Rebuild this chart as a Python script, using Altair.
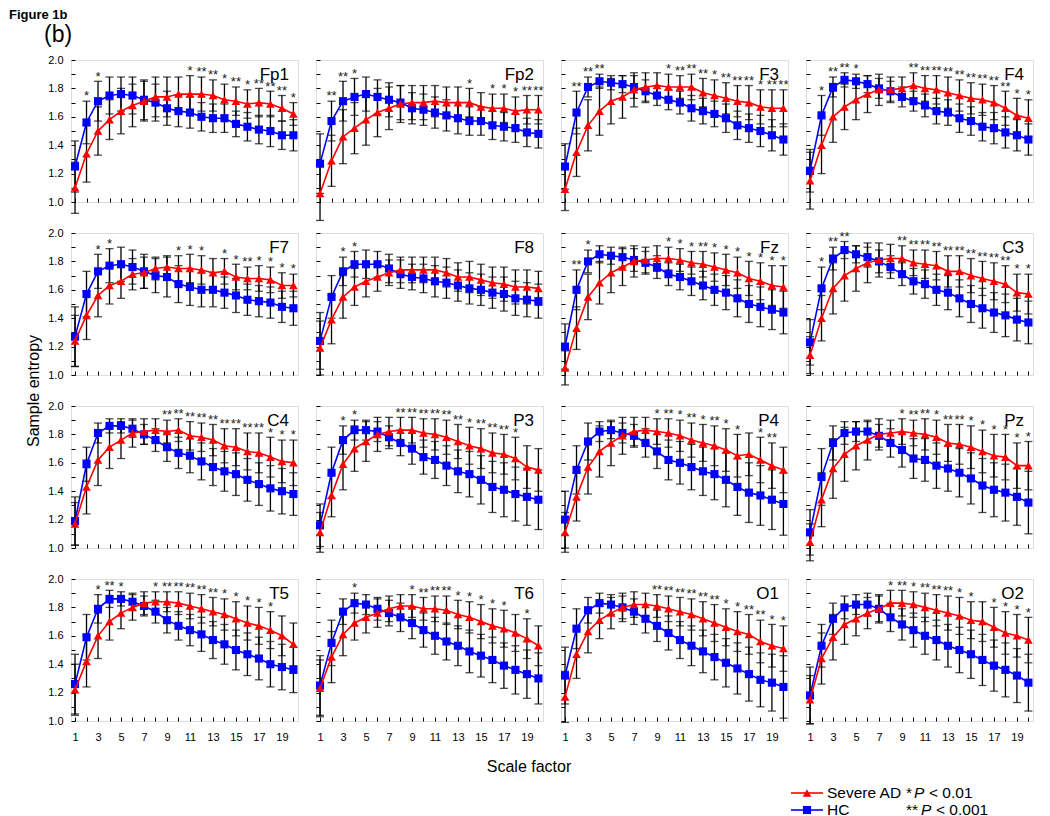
import altair as alt
import pandas as pd

FONT = "Liberation Sans"
RED = "#ff0000"
BLUE = "#0000ff"

SCALES = list(range(1, 21))
CHANNELS = ["Fp1", "Fp2", "F3", "F4", "F7", "F8", "Fz", "C3",
            "C4", "P3", "P4", "Pz", "T5", "T6", "O1", "O2"]
GROUPS = ["Severe AD", "HC"]

AD_MEAN = {
    "Fp1": [1.10, 1.34, 1.50, 1.58, 1.64, 1.68, 1.71, 1.74, 1.74, 1.76, 1.76, 1.76, 1.75, 1.72, 1.71, 1.69, 1.70, 1.69, 1.66, 1.62],
    "Fp2": [1.06, 1.29, 1.46, 1.52, 1.58, 1.63, 1.66, 1.69, 1.70, 1.70, 1.71, 1.70, 1.70, 1.70, 1.67, 1.66, 1.66, 1.64, 1.65, 1.65],
    "F3":  [1.09, 1.35, 1.54, 1.64, 1.71, 1.74, 1.79, 1.81, 1.82, 1.81, 1.81, 1.81, 1.77, 1.75, 1.73, 1.71, 1.70, 1.67, 1.66, 1.66],
    "F4":  [1.15, 1.40, 1.60, 1.67, 1.72, 1.76, 1.79, 1.79, 1.80, 1.82, 1.80, 1.79, 1.77, 1.75, 1.73, 1.72, 1.70, 1.66, 1.61, 1.59],
    "F7":  [1.24, 1.42, 1.56, 1.63, 1.66, 1.71, 1.72, 1.75, 1.76, 1.75, 1.75, 1.74, 1.72, 1.73, 1.69, 1.68, 1.68, 1.67, 1.63, 1.63],
    "F8":  [1.19, 1.39, 1.55, 1.62, 1.66, 1.69, 1.72, 1.74, 1.74, 1.74, 1.74, 1.72, 1.69, 1.69, 1.67, 1.65, 1.64, 1.62, 1.62, 1.61],
    "Fz":  [1.05, 1.33, 1.55, 1.65, 1.72, 1.76, 1.80, 1.81, 1.82, 1.82, 1.81, 1.79, 1.78, 1.76, 1.74, 1.72, 1.68, 1.66, 1.63, 1.62],
    "C3":  [1.14, 1.40, 1.61, 1.70, 1.75, 1.79, 1.81, 1.82, 1.82, 1.79, 1.78, 1.77, 1.73, 1.73, 1.70, 1.68, 1.66, 1.64, 1.58, 1.57],
    "C4":  [1.17, 1.43, 1.62, 1.71, 1.76, 1.81, 1.82, 1.83, 1.82, 1.83, 1.79, 1.78, 1.76, 1.72, 1.71, 1.68, 1.67, 1.64, 1.61, 1.60],
    "P3":  [1.11, 1.37, 1.59, 1.70, 1.75, 1.80, 1.82, 1.83, 1.83, 1.81, 1.80, 1.78, 1.75, 1.72, 1.70, 1.67, 1.66, 1.63, 1.57, 1.55],
    "P4":  [1.11, 1.36, 1.57, 1.68, 1.74, 1.79, 1.82, 1.83, 1.82, 1.81, 1.79, 1.76, 1.74, 1.72, 1.69, 1.65, 1.66, 1.62, 1.58, 1.55],
    "Pz":  [1.04, 1.34, 1.56, 1.66, 1.72, 1.76, 1.80, 1.81, 1.82, 1.81, 1.80, 1.78, 1.74, 1.73, 1.71, 1.68, 1.65, 1.64, 1.58, 1.58],
    "T5":  [1.22, 1.42, 1.60, 1.70, 1.76, 1.80, 1.83, 1.84, 1.84, 1.83, 1.81, 1.79, 1.77, 1.75, 1.72, 1.69, 1.67, 1.64, 1.60, 1.54],
    "T6":  [1.23, 1.45, 1.61, 1.69, 1.73, 1.76, 1.79, 1.81, 1.81, 1.79, 1.79, 1.78, 1.75, 1.73, 1.70, 1.67, 1.65, 1.62, 1.58, 1.53],
    "O1":  [1.17, 1.47, 1.63, 1.71, 1.76, 1.80, 1.82, 1.82, 1.81, 1.79, 1.77, 1.75, 1.72, 1.69, 1.66, 1.63, 1.61, 1.56, 1.53, 1.51],
    "O2":  [1.15, 1.44, 1.59, 1.68, 1.72, 1.76, 1.79, 1.83, 1.83, 1.82, 1.80, 1.78, 1.76, 1.74, 1.71, 1.70, 1.66, 1.62, 1.60, 1.57],
}

HC_MEAN = {
    "Fp1": [1.25, 1.56, 1.71, 1.75, 1.76, 1.75, 1.72, 1.70, 1.66, 1.64, 1.63, 1.60, 1.59, 1.59, 1.55, 1.53, 1.51, 1.50, 1.47, 1.47],
    "Fp2": [1.27, 1.57, 1.71, 1.74, 1.76, 1.74, 1.72, 1.70, 1.66, 1.65, 1.63, 1.61, 1.59, 1.57, 1.57, 1.54, 1.53, 1.52, 1.49, 1.48],
    "F3":  [1.25, 1.63, 1.81, 1.85, 1.84, 1.83, 1.81, 1.78, 1.75, 1.72, 1.70, 1.66, 1.64, 1.62, 1.59, 1.54, 1.52, 1.50, 1.47, 1.44],
    "F4":  [1.22, 1.61, 1.81, 1.86, 1.85, 1.83, 1.80, 1.78, 1.74, 1.71, 1.68, 1.64, 1.63, 1.59, 1.57, 1.53, 1.52, 1.49, 1.47, 1.44],
    "F7":  [1.27, 1.57, 1.73, 1.77, 1.78, 1.76, 1.73, 1.70, 1.69, 1.64, 1.62, 1.60, 1.60, 1.58, 1.56, 1.53, 1.52, 1.51, 1.48, 1.47],
    "F8":  [1.24, 1.55, 1.73, 1.78, 1.78, 1.78, 1.75, 1.71, 1.69, 1.68, 1.66, 1.65, 1.63, 1.61, 1.60, 1.58, 1.57, 1.54, 1.53, 1.52],
    "Fz":  [1.20, 1.60, 1.80, 1.85, 1.84, 1.83, 1.81, 1.79, 1.76, 1.71, 1.69, 1.66, 1.63, 1.60, 1.58, 1.54, 1.50, 1.48, 1.46, 1.44],
    "C3":  [1.23, 1.61, 1.82, 1.88, 1.85, 1.83, 1.80, 1.76, 1.71, 1.66, 1.64, 1.60, 1.58, 1.54, 1.50, 1.47, 1.44, 1.42, 1.39, 1.37],
    "C4":  [1.19, 1.59, 1.81, 1.86, 1.86, 1.84, 1.80, 1.76, 1.71, 1.67, 1.65, 1.61, 1.57, 1.54, 1.52, 1.48, 1.45, 1.42, 1.40, 1.38],
    "P3":  [1.16, 1.53, 1.76, 1.83, 1.83, 1.82, 1.78, 1.74, 1.70, 1.64, 1.62, 1.58, 1.54, 1.52, 1.48, 1.43, 1.41, 1.38, 1.36, 1.34],
    "P4":  [1.20, 1.55, 1.75, 1.82, 1.83, 1.81, 1.79, 1.74, 1.68, 1.62, 1.60, 1.57, 1.54, 1.52, 1.48, 1.43, 1.39, 1.37, 1.34, 1.31],
    "Pz":  [1.11, 1.50, 1.74, 1.81, 1.82, 1.82, 1.79, 1.74, 1.69, 1.63, 1.62, 1.58, 1.56, 1.53, 1.49, 1.44, 1.41, 1.39, 1.36, 1.32],
    "T5":  [1.26, 1.59, 1.79, 1.86, 1.86, 1.84, 1.81, 1.77, 1.71, 1.67, 1.64, 1.61, 1.57, 1.54, 1.50, 1.47, 1.44, 1.40, 1.38, 1.36],
    "T6":  [1.25, 1.55, 1.77, 1.83, 1.82, 1.79, 1.76, 1.73, 1.69, 1.64, 1.60, 1.56, 1.53, 1.49, 1.46, 1.43, 1.39, 1.36, 1.33, 1.30],
    "O1":  [1.32, 1.65, 1.78, 1.83, 1.82, 1.80, 1.77, 1.72, 1.67, 1.62, 1.57, 1.53, 1.49, 1.45, 1.41, 1.37, 1.33, 1.29, 1.27, 1.24],
    "O2":  [1.18, 1.53, 1.72, 1.80, 1.82, 1.82, 1.79, 1.73, 1.68, 1.64, 1.60, 1.57, 1.53, 1.50, 1.47, 1.43, 1.39, 1.36, 1.32, 1.27],
}

AD_ERR = {
    "Fp1": [0.18, 0.20, 0.17, 0.14, 0.16, 0.15, 0.14, 0.14, 0.14, 0.12, 0.13, 0.12, 0.11, 0.11, 0.10, 0.10, 0.10, 0.09, 0.09, 0.08],
    "Fp2": [0.19, 0.18, 0.19, 0.18, 0.18, 0.17, 0.15, 0.13, 0.12, 0.12, 0.11, 0.11, 0.11, 0.10, 0.10, 0.10, 0.10, 0.10, 0.10, 0.10],
    "F3":  [0.15, 0.17, 0.18, 0.17, 0.16, 0.15, 0.12, 0.10, 0.09, 0.09, 0.08, 0.09, 0.10, 0.11, 0.11, 0.11, 0.12, 0.12, 0.13, 0.13],
    "F4":  [0.20, 0.20, 0.18, 0.16, 0.14, 0.13, 0.11, 0.09, 0.08, 0.09, 0.09, 0.10, 0.11, 0.11, 0.11, 0.11, 0.12, 0.12, 0.12, 0.13],
    "F7":  [0.18, 0.17, 0.15, 0.13, 0.12, 0.11, 0.11, 0.08, 0.08, 0.09, 0.10, 0.10, 0.10, 0.09, 0.09, 0.08, 0.09, 0.09, 0.09, 0.08],
    "F8":  [0.19, 0.17, 0.15, 0.13, 0.11, 0.10, 0.09, 0.09, 0.09, 0.09, 0.09, 0.10, 0.10, 0.11, 0.11, 0.11, 0.12, 0.12, 0.12, 0.12],
    "Fz":  [0.12, 0.15, 0.16, 0.15, 0.14, 0.13, 0.11, 0.09, 0.09, 0.08, 0.08, 0.08, 0.09, 0.10, 0.11, 0.11, 0.12, 0.13, 0.14, 0.15],
    "C3":  [0.13, 0.16, 0.18, 0.18, 0.16, 0.14, 0.12, 0.10, 0.09, 0.09, 0.10, 0.10, 0.11, 0.11, 0.12, 0.12, 0.13, 0.13, 0.13, 0.14],
    "C4":  [0.15, 0.19, 0.18, 0.15, 0.13, 0.10, 0.09, 0.08, 0.08, 0.08, 0.10, 0.10, 0.11, 0.12, 0.13, 0.13, 0.14, 0.14, 0.15, 0.16],
    "P3":  [0.14, 0.15, 0.18, 0.16, 0.14, 0.12, 0.10, 0.09, 0.09, 0.10, 0.11, 0.12, 0.12, 0.13, 0.14, 0.14, 0.14, 0.15, 0.15, 0.15],
    "P4":  [0.14, 0.17, 0.19, 0.18, 0.16, 0.13, 0.10, 0.09, 0.09, 0.10, 0.11, 0.12, 0.13, 0.14, 0.15, 0.15, 0.15, 0.16, 0.16, 0.16],
    "Pz":  [0.13, 0.19, 0.21, 0.19, 0.17, 0.14, 0.11, 0.09, 0.09, 0.09, 0.11, 0.12, 0.13, 0.14, 0.15, 0.15, 0.15, 0.16, 0.16, 0.17],
    "T5":  [0.18, 0.18, 0.16, 0.13, 0.11, 0.09, 0.08, 0.07, 0.07, 0.08, 0.09, 0.10, 0.10, 0.11, 0.12, 0.12, 0.13, 0.13, 0.14, 0.15],
    "T6":  [0.20, 0.18, 0.15, 0.12, 0.11, 0.10, 0.09, 0.08, 0.08, 0.08, 0.09, 0.10, 0.10, 0.11, 0.12, 0.12, 0.13, 0.13, 0.14, 0.14],
    "O1":  [0.18, 0.17, 0.15, 0.13, 0.11, 0.10, 0.09, 0.08, 0.08, 0.09, 0.10, 0.11, 0.12, 0.13, 0.13, 0.14, 0.14, 0.15, 0.15, 0.16],
    "O2":  [0.17, 0.18, 0.16, 0.14, 0.12, 0.11, 0.10, 0.09, 0.09, 0.09, 0.10, 0.11, 0.12, 0.13, 0.13, 0.14, 0.14, 0.15, 0.15, 0.16],
}

HC_ERR = {
    "Fp1": [0.18, 0.15, 0.14, 0.13, 0.12, 0.13, 0.14, 0.13, 0.12, 0.11, 0.11, 0.10, 0.10, 0.10, 0.09, 0.10, 0.10, 0.11, 0.10, 0.11],
    "Fp2": [0.21, 0.14, 0.14, 0.13, 0.12, 0.12, 0.12, 0.12, 0.11, 0.11, 0.11, 0.11, 0.11, 0.10, 0.10, 0.10, 0.10, 0.10, 0.10, 0.10],
    "F3":  [0.16, 0.15, 0.07, 0.05, 0.05, 0.06, 0.08, 0.08, 0.07, 0.07, 0.08, 0.09, 0.09, 0.09, 0.10, 0.10, 0.10, 0.11, 0.11, 0.11],
    "F4":  [0.15, 0.14, 0.07, 0.05, 0.05, 0.06, 0.07, 0.07, 0.07, 0.07, 0.08, 0.09, 0.09, 0.10, 0.10, 0.10, 0.11, 0.11, 0.11, 0.11],
    "F7":  [0.21, 0.16, 0.12, 0.12, 0.12, 0.12, 0.12, 0.12, 0.14, 0.13, 0.13, 0.12, 0.12, 0.11, 0.12, 0.11, 0.11, 0.11, 0.11, 0.12],
    "F8":  [0.20, 0.15, 0.10, 0.09, 0.10, 0.09, 0.10, 0.10, 0.09, 0.10, 0.11, 0.11, 0.11, 0.11, 0.11, 0.11, 0.12, 0.12, 0.12, 0.12],
    "Fz":  [0.16, 0.14, 0.08, 0.06, 0.06, 0.07, 0.08, 0.08, 0.08, 0.08, 0.09, 0.10, 0.10, 0.11, 0.12, 0.13, 0.13, 0.14, 0.14, 0.15],
    "C3":  [0.16, 0.15, 0.08, 0.06, 0.06, 0.07, 0.08, 0.08, 0.08, 0.09, 0.10, 0.11, 0.12, 0.13, 0.13, 0.14, 0.14, 0.15, 0.15, 0.15],
    "C4":  [0.17, 0.12, 0.07, 0.05, 0.05, 0.06, 0.07, 0.08, 0.10, 0.11, 0.12, 0.13, 0.13, 0.14, 0.15, 0.15, 0.15, 0.16, 0.16, 0.15],
    "P3":  [0.15, 0.18, 0.10, 0.07, 0.07, 0.07, 0.08, 0.09, 0.11, 0.12, 0.13, 0.14, 0.15, 0.16, 0.17, 0.18, 0.19, 0.19, 0.20, 0.21],
    "P4":  [0.20, 0.17, 0.13, 0.07, 0.06, 0.07, 0.08, 0.10, 0.12, 0.14, 0.15, 0.16, 0.17, 0.18, 0.19, 0.20, 0.21, 0.21, 0.21, 0.22],
    "Pz":  [0.16, 0.20, 0.12, 0.08, 0.07, 0.07, 0.08, 0.10, 0.12, 0.14, 0.15, 0.16, 0.16, 0.17, 0.18, 0.19, 0.19, 0.20, 0.20, 0.22],
    "T5":  [0.21, 0.16, 0.10, 0.06, 0.05, 0.06, 0.07, 0.08, 0.09, 0.10, 0.11, 0.12, 0.13, 0.14, 0.14, 0.15, 0.15, 0.16, 0.16, 0.16],
    "T6":  [0.21, 0.16, 0.09, 0.07, 0.07, 0.08, 0.09, 0.10, 0.11, 0.12, 0.13, 0.13, 0.14, 0.15, 0.15, 0.16, 0.16, 0.17, 0.17, 0.18],
    "O1":  [0.20, 0.14, 0.09, 0.07, 0.07, 0.08, 0.09, 0.10, 0.11, 0.12, 0.13, 0.14, 0.15, 0.16, 0.17, 0.18, 0.19, 0.19, 0.20, 0.22],
    "O2":  [0.20, 0.15, 0.11, 0.08, 0.07, 0.08, 0.09, 0.10, 0.11, 0.12, 0.13, 0.14, 0.15, 0.16, 0.17, 0.18, 0.18, 0.19, 0.19, 0.20],
}

# significance marks per scale factor (* P<0.01, ** P<0.001)
STARS = {
    "Fp1": {2: "*", 3: "*", 11: "*", 12: "**", 13: "**", 14: "*", 15: "**", 16: "*", 17: "**", 18: "**", 19: "**", 20: "*"},
    "Fp2": {2: "**", 3: "**", 4: "*", 14: "*", 16: "*", 17: "*", 18: "*", 19: "**", 20: "**"},
    "F3":  {2: "**", 3: "**", 4: "**", 10: "*", 11: "**", 12: "**", 13: "**", 14: "*", 15: "**", 16: "**", 17: "**", 18: "*", 19: "**", 20: "**"},
    "F4":  {2: "*", 3: "**", 4: "**", 5: "*", 10: "**", 11: "**", 12: "**", 13: "**", 14: "**", 15: "**", 16: "**", 17: "**", 18: "**", 19: "*", 20: "*"},
    "F7":  {3: "*", 4: "*", 10: "*", 11: "*", 12: "*", 14: "*", 15: "*", 16: "**", 17: "*", 18: "*", 19: "*", 20: "*"},
    "F8":  {3: "*", 4: "*"},
    "Fz":  {2: "**", 3: "*", 10: "*", 11: "*", 12: "*", 13: "**", 14: "*", 15: "*", 16: "*", 17: "*", 18: "*", 19: "*", 20: "*"},
    "C3":  {2: "*", 3: "**", 4: "**", 9: "**", 10: "**", 11: "**", 12: "**", 13: "**", 14: "**", 15: "**", 16: "**", 17: "**", 18: "**", 19: "*", 20: "*"},
    "C4":  {9: "**", 10: "**", 11: "**", 12: "**", 13: "**", 14: "**", 15: "**", 16: "**", 17: "**", 18: "*", 19: "*", 20: "*"},
    "P3":  {3: "*", 4: "*", 8: "**", 9: "**", 10: "**", 11: "**", 12: "**", 13: "**", 14: "*", 15: "**", 16: "**", 17: "**", 18: "*"},
    "P4":  {9: "*", 10: "**", 11: "*", 12: "**", 13: "*", 14: "**", 15: "*", 16: "*", 18: "*", 19: "**"},
    "Pz":  {9: "*", 10: "**", 11: "**", 12: "*", 13: "**", 14: "**", 15: "*", 16: "*", 17: "*", 18: "*", 19: "*", 20: "*"},
    "T5":  {3: "*", 4: "**", 5: "*", 8: "*", 9: "**", 10: "**", 11: "**", 12: "**", 13: "**", 14: "*", 15: "*", 16: "*", 17: "*", 18: "*"},
    "T6":  {4: "*", 9: "*", 10: "**", 11: "**", 12: "**", 13: "*", 14: "*", 15: "*", 16: "*", 17: "*", 19: "*"},
    "O1":  {9: "**", 10: "**", 11: "**", 12: "**", 13: "**", 14: "**", 15: "*", 16: "*", 17: "**", 18: "**", 19: "*", 20: "*"},
    "O2":  {8: "*", 9: "**", 10: "*", 11: "**", 12: "**", 13: "**", 14: "*", 15: "*", 17: "*", 18: "*", 19: "*", 20: "*"},
}

Y_TICKS = [round(1.0 + 0.1 * i, 1) for i in range(11)]
X_LABELS = [1, 3, 5, 7, 9, 11, 13, 15, 17, 19]

W, H = 227, 142
XS = alt.Scale(domain=[0.65, 20.4], nice=False, zero=False)
YS = alt.Scale(domain=[1.0, 2.0], nice=False, zero=False)


def x_axis(show):
    return alt.Axis(values=SCALES, labels=show, tickSize=4, offset=-4, domain=False,
                    grid=False, title=None, tickColor="black", tickWidth=1,
                    labelExpr="indexof(" + str(X_LABELS) + ", datum.value) >= 0 ? datum.label : ''",
                    labelFont=FONT, labelFontSize=11, labelColor="black",
                    labelPadding=10, labelOverlap=False, labelFlush=False)


def y_axis(show):
    return alt.Axis(values=Y_TICKS, labels=show, tickSize=4, offset=-4, domain=False,
                    grid=False, title=None, tickColor="black", tickWidth=1,
                    labelExpr="round(datum.value*10) % 2 == 0 ? format(datum.value, '.1f') : ''",
                    labelFont=FONT, labelFontSize=11, labelColor="black",
                    labelPadding=8, labelOverlap=False, labelFlush=False)


def one_row():
    return pd.DataFrame({"k": [0]})


def txt(text, x, y, size=16, **kw):
    opts = dict(text=text, font=FONT, fontSize=size, align="left", baseline="middle", color="black")
    opts.update(kw)
    return alt.Chart(one_row()).mark_text(**opts).encode(x=alt.value(x), y=alt.value(y))


def panel(ch, r, c):
    rows = []
    for g, means, errs in (("Severe AD", AD_MEAN[ch], AD_ERR[ch]), ("HC", HC_MEAN[ch], HC_ERR[ch])):
        for s, m, e in zip(SCALES, means, errs):
            rows.append({"scale": s, "group": g, "mean": m, "lo": m - e, "hi": m + e})
    df = pd.DataFrame(rows)
    top = df.groupby("scale")["hi"].max()
    sdf = pd.DataFrame([{"scale": s, "label": lab, "ypos": top[s] + 0.005}
                        for s, lab in STARS[ch].items()])

    X = lambda f: alt.X(f + ":Q", scale=XS, axis=x_axis(r == 3))
    Y = lambda f: alt.Y(f + ":Q", scale=YS, axis=y_axis(c == 0))

    base = alt.Chart(df)
    err = base.mark_rule(color="black", strokeWidth=1.3).encode(x=X("scale"), y=Y("lo"), y2="hi:Q")
    caps = base.transform_fold(["lo", "hi"], as_=["end", "v"]).mark_tick(
        orient="horizontal", color="black", size=8, thickness=1.3).encode(x=X("scale"), y=Y("v"))
    hc = base.transform_filter(alt.datum.group == "HC")
    ad = base.transform_filter(alt.datum.group == "Severe AD")
    hc_line = hc.mark_line(color=BLUE, strokeWidth=1.6).encode(x=X("scale"), y=Y("mean"))
    hc_pts = hc.mark_point(shape="square", filled=True, size=66, color=BLUE, opacity=1).encode(
        x=X("scale"), y=Y("mean"))
    ad_line = ad.mark_line(color=RED, strokeWidth=1.6).encode(x=X("scale"), y=Y("mean"))
    ad_pts = ad.mark_point(shape="triangle-up", filled=True, size=76, color=RED, opacity=1).encode(
        x=X("scale"), y=Y("mean"))
    stars = alt.Chart(sdf).mark_text(font=FONT, fontSize=13, color="#222222", baseline="alphabetic").encode(
        x=X("scale"), y=Y("ypos"), text="label:N")
    name = txt(ch, W - 9, 15, size=17, align="right")

    layers = [err, caps, hc_line, hc_pts, ad_line, ad_pts, stars, name]

    if r == 0 and c == 0:
        layers.append(txt("Figure 1b", -62, -51, size=13, fontWeight="bold", baseline="top"))
        layers.append(txt("(b)", -27, -25, size=23))
    if r == 1 and c == 0:
        layers.append(txt("Sample entropy", -37, 158, angle=270, align="center"))
    if r == 3 and c == 1:
        layers.append(txt("Scale factor", 213, 188, align="center"))
    if r == 3 and c == 3:
        for gi, (g, col, shp, sz) in enumerate(((GROUPS[0], RED, "triangle-up", 76),
                                                (GROUPS[1], BLUE, "square", 66))):
            yy = 214 + 17 * gi
            layers.append(alt.Chart(one_row()).mark_rule(color=col, strokeWidth=1.6).encode(
                x=alt.value(-15), x2=alt.value(17), y=alt.value(yy)))
            layers.append(alt.Chart(one_row()).mark_point(
                shape=shp, filled=True, size=sz, color=col, opacity=1).encode(
                x=alt.value(1), y=alt.value(yy)))
            layers.append(txt(g, 21, yy, size=15.5))
        for gi, (st, rest) in enumerate((("*", "< 0.01"), ("**", "< 0.001"))):
            yy = 214 + 17 * gi
            off = 100
            layers.append(txt(st, off, yy, size=15.5))
            px = off + 7 * len(st) + 1
            layers.append(txt("P", px, yy, size=15.5, fontStyle="italic"))
            layers.append(txt(rest, px + 15, yy, size=15.5))

    return alt.layer(*layers).properties(width=W, height=H)


panels = [panel(CHANNELS[r * 4 + c], r, c) for r in range(4) for c in range(4)]

chart = alt.concat(*panels, columns=4, spacing={"row": 31, "column": 18}, bounds="flush").properties(
    padding=0
).configure_view(stroke="black", strokeWidth=1.4).configure(background="white")

chart.save("out.html", embed_options={"renderer": "svg", "actions": False})
